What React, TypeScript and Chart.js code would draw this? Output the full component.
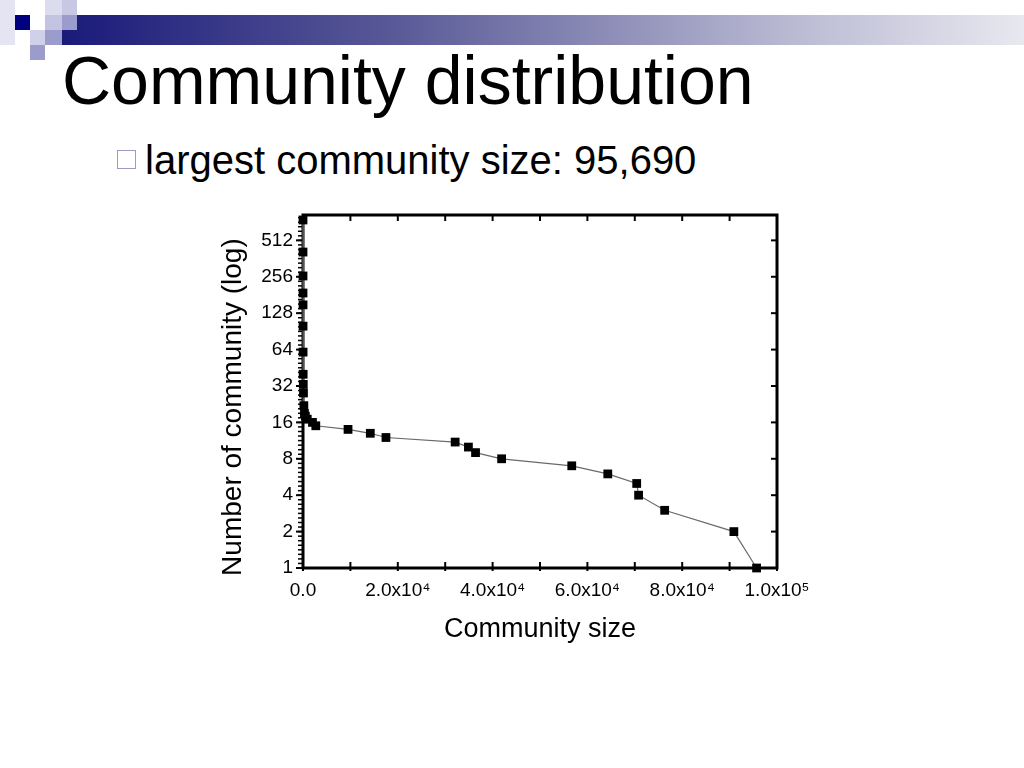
import React, { useEffect, useRef } from 'react';
import { Chart, registerables } from 'chart.js';

Chart.register(...registerables);

// Community size (x) and number of communities (y, cumulative, log2 axis)
const COMMUNITY_SIZE = [
  1, 2, 3, 5, 8, 12, 20, 35, 60, 100, 180, 300, 500, 900,
  2000, 2700, 9500, 14200, 17500, 32100, 34900, 36400, 41900,
  56700, 64300, 70400, 70800, 76300, 90900, 95690,
];
const COMMUNITY_COUNT = [
  755, 410, 260, 188, 150, 100, 61, 40, 33, 28, 22, 19, 18, 17,
  16, 15, 14, 13, 12, 11, 10, 9, 8,
  7, 6, 5, 4, 3, 2, 1,
];

const X_TICKS = [0, 10000, 20000, 30000, 40000, 50000, 60000, 70000, 80000, 90000, 100000];
const X_TICK_LABELS: Record<number, string> = {
  0: '0.0',
  20000: '2.0x10\u2074',
  40000: '4.0x10\u2074',
  60000: '6.0x10\u2074',
  80000: '8.0x10\u2074',
  100000: '1.0x10\u2075',
};
const Y_TICKS = [1, 2, 4, 8, 16, 32, 64, 128, 256, 512];
const Y_MIN = 1;
const Y_MAX = 830;
const X_MIN = 0;
const X_MAX = 100000;

const FONT = "'Liberation Sans', Arial, sans-serif";

const framePlugin = {
  id: 'frame',
  beforeDatasetsDraw(chart: any) {
    const { ctx, chartArea, scales } = chart;
    const { left, right, top, bottom } = chartArea;
    const x = scales.x;
    const y = scales.y;
    ctx.save();
    ctx.strokeStyle = '#000';
    const line = (x1: number, y1: number, x2: number, y2: number) => {
      ctx.beginPath();
      ctx.moveTo(x1, y1);
      ctx.lineTo(x2, y2);
      ctx.stroke();
    };
    ctx.lineWidth = 2;
    X_TICKS.forEach((v) => {
      const px = x.getPixelForValue(v);
      line(px, bottom + 3, px, bottom - 6);
      line(px, top, px, top + 6);
    });
    Y_TICKS.forEach((v) => {
      const py = y.getPixelForValue(v);
      line(left, py, left - 7, py);
      line(right, py, right - 6, py);
    });
    // minor ticks on the left axis
    ctx.lineWidth = 1.5;
    const lo = Math.log2(Y_MIN);
    const hi = Math.log2(Y_MAX);
    for (let k = lo * 8; k <= hi * 8; k++) {
      const py = y.getPixelForValue(Math.pow(2, k / 8));
      line(left, py, left - 5, py);
    }
    ctx.lineWidth = 3;
    ctx.strokeRect(left, top, right - left, bottom - top);
    ctx.restore();
  },
};

function CommunityChart() {
  const ref = useRef<HTMLCanvasElement | null>(null);
  useEffect(() => {
    if (!ref.current) return;
    const data = COMMUNITY_SIZE.map((s, i) => ({ x: s, y: COMMUNITY_COUNT[i] }));
    const chart = new Chart(ref.current, {
      type: 'line',
      data: {
        datasets: [
          {
            data,
            borderColor: '#6a6a6a',
            borderWidth: 1.2,
            pointStyle: 'rect',
            pointRadius: 6.2,
            pointBackgroundColor: '#000',
            pointBorderColor: '#000',
            pointBorderWidth: 0,
            clip: false,
            tension: 0,
          } as any,
        ],
      },
      options: {
        responsive: false,
        animation: false,
        devicePixelRatio: 1,
        parsing: false,
        layout: { padding: { top: 15, right: 63, left: 0, bottom: 0 } },
        plugins: { legend: { display: false }, tooltip: { enabled: false } },
        scales: {
          x: {
            type: 'linear',
            min: X_MIN,
            max: X_MAX,
            afterBuildTicks: (s: any) => {
              s.ticks = X_TICKS.map((value) => ({ value }));
            },
            afterFit: (s: any) => {
              s.height = 92;
              s.paddingLeft = 0;
              s.paddingRight = 0;
            },
            grid: { display: false, drawTicks: false },
            border: { display: false },
            ticks: {
              autoSkip: false,
              maxRotation: 0,
              padding: 11,
              color: '#000',
              font: { family: FONT, size: 19 },
              callback: (v: any) => X_TICK_LABELS[Number(v)] ?? '',
            },
            title: {
              display: true,
              text: 'Community size',
              color: '#000',
              font: { family: FONT, size: 27 },
              padding: { top: 0, bottom: 14 },
            },
          },
          y: {
            type: 'logarithmic',
            min: Y_MIN,
            max: Y_MAX,
            afterBuildTicks: (s: any) => {
              s.ticks = Y_TICKS.map((value) => ({ value }));
            },
            afterFit: (s: any) => {
              s.width = 103;
              s.paddingTop = 0;
              s.paddingBottom = 0;
            },
            grid: { display: false, drawTicks: false },
            border: { display: false },
            ticks: {
              autoSkip: false,
              padding: 10,
              color: '#000',
              font: { family: FONT, size: 19 },
              callback: (v: any) => String(v),
            },
            title: {
              display: true,
              text: 'Number of community (log)\u00a0\u00a0\u00a0\u00a0',
              color: '#000',
              font: { family: FONT, size: 28 },
              padding: { top: 16, bottom: 0 },
            },
          },
        },
      } as any,
      plugins: [framePlugin],
    });
    return () => chart.destroy();
  }, []);
  return (
    <canvas
      ref={ref}
      width={640}
      height={460}
      style={{ position: 'absolute', left: 200, top: 200, width: 640, height: 460 }}
    />
  );
}

export default function App() {
  const sq = (l: number, t: number, c: string, w = 15, h = 15) => (
    <div style={{ position: 'absolute', left: l, top: t, width: w, height: h, background: c }} />
  );
  return (
    <div
      style={{
        position: 'absolute',
        left: 0,
        top: 0,
        width: 1024,
        height: 768,
        background: '#fff',
        overflow: 'hidden',
        fontFamily: FONT,
      }}
    >
      {/* decorative header */}
      <div
        style={{
          position: 'absolute',
          left: 62,
          top: 15,
          width: 962,
          height: 30,
          background: 'linear-gradient(to right, #1a1a7a 0%, #5a5a98 35%, #b8b8d2 75%, #e8e8f0 100%)',
        }}
      />
      {sq(0, 0, '#e4e4f2', 15, 45)}
      {sq(15, 15, '#000080')}
      {sq(45, 0, '#dcdcef', 17, 15)}
      {sq(62, 0, '#c8c8e4')}
      {sq(45, 15, '#c4c4e2', 17, 15)}
      {sq(62, 15, '#9c9ccc')}
      {sq(30, 30, '#d0d0ea')}
      {sq(45, 30, '#9c9ccc', 17, 15)}
      {sq(30, 45, '#9c9ccc')}

      <div
        style={{
          position: 'absolute',
          left: 62,
          top: 46,
          fontSize: 68,
          lineHeight: '68px',
          color: '#000',
          whiteSpace: 'nowrap',
        }}
      >
        Community distribution
      </div>

      <div
        style={{
          position: 'absolute',
          left: 117,
          top: 150,
          width: 17,
          height: 17,
          border: '1.5px solid #9a9acc',
        }}
      />
      <div
        style={{
          position: 'absolute',
          left: 145,
          top: 140,
          fontSize: 40,
          lineHeight: '40px',
          color: '#000',
          whiteSpace: 'nowrap',
        }}
      >
        largest community size: 95,690
      </div>

      <CommunityChart />
    </div>
  );
}
